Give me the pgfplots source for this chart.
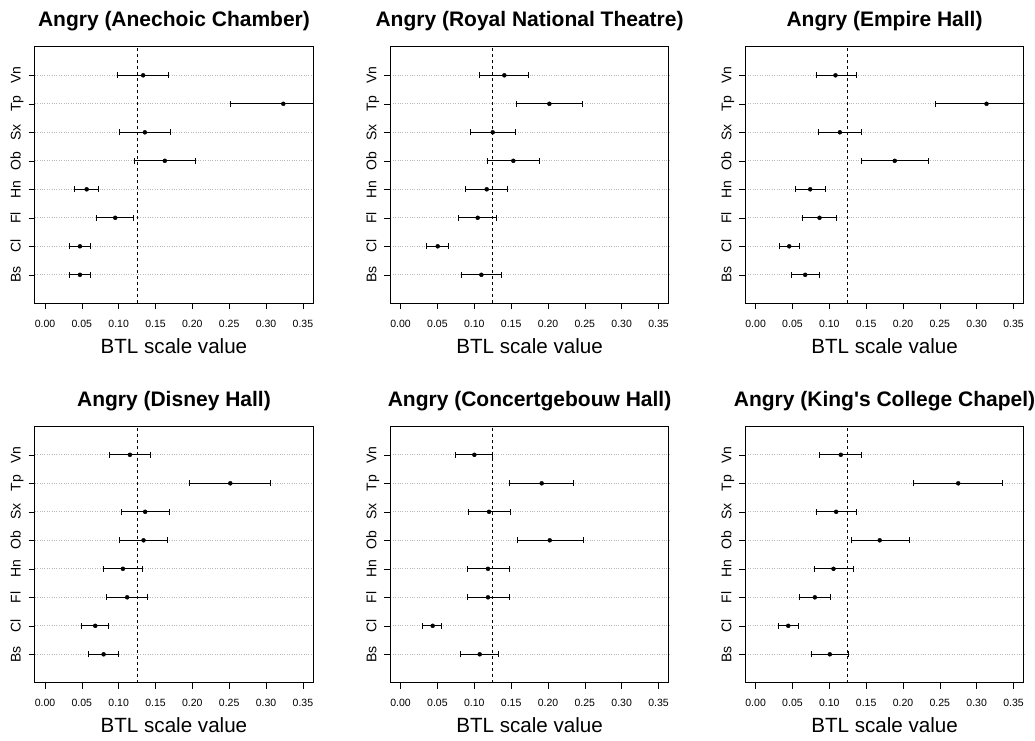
\documentclass[border=0pt]{standalone}
\usepackage{fontspec}
\setmainfont{Liberation Sans}
\usepackage{pgfplots}
\usepackage{pgfplotstable}
\pgfplotsset{compat=1.18}

% columns: y (1=Bs ... 8=Vn), x = BTL value, lo/hi = interval ends
\pgfplotstableread{
y x lo hi
1 0.0474 0.0330 0.0619
2 0.0474 0.0330 0.0619
3 0.0953 0.0700 0.1206
4 0.0565 0.0397 0.0732
5 0.1626 0.1210 0.2037
6 0.1355 0.1007 0.1703
7 0.3234 0.2515 0.3950
8 0.1332 0.0985 0.1675
}\tabA
\pgfplotstableread{
y x lo hi
1 0.1096 0.0829 0.1363
2 0.0503 0.0358 0.0647
3 0.1046 0.0792 0.1304
4 0.1168 0.0883 0.1453
5 0.1530 0.1177 0.1888
6 0.1250 0.0951 0.1553
7 0.2019 0.1567 0.2468
8 0.1408 0.1069 0.1739
}\tabB
\pgfplotstableread{
y x lo hi
1 0.0673 0.0488 0.0863
2 0.0456 0.0321 0.0592
3 0.0867 0.0637 0.1097
4 0.0741 0.0537 0.0948
5 0.1888 0.1436 0.2348
6 0.1143 0.0849 0.1441
7 0.3134 0.2439 0.3830
8 0.1084 0.0831 0.1368
}\tabC
\pgfplotstableread{
y x lo hi
1 0.0795 0.0592 0.1003
2 0.0682 0.0501 0.0863
3 0.1115 0.0840 0.1386
4 0.1057 0.0799 0.1323
5 0.1337 0.1016 0.1657
6 0.1359 0.1034 0.1689
7 0.2515 0.1964 0.3066
8 0.1152 0.0876 0.1436
}\tabD
\pgfplotstableread{
y x lo hi
1 0.1073 0.0806 0.1331
2 0.0435 0.0303 0.0557
3 0.1186 0.0901 0.1472
4 0.1186 0.0901 0.1472
5 0.2024 0.1589 0.2477
6 0.1200 0.0919 0.1494
7 0.1915 0.1481 0.2350
8 0.1001 0.0747 0.1250
}\tabE
\pgfplotstableread{
y x lo hi
1 0.1007 0.0754 0.1260
2 0.0443 0.0312 0.0578
3 0.0804 0.0600 0.1012
4 0.1057 0.0795 0.1323
5 0.1684 0.1296 0.2086
6 0.1093 0.0826 0.1364
7 0.2750 0.2145 0.3355
8 0.1156 0.0867 0.1441
}\tabF

\pgfplotsset{
  panel/.style={
    scale only axis, width=278.5pt, height=256.5pt,
    anchor=south west,
    xmin=-0.014, xmax=0.364, ymin=0, ymax=9,
    xtick={0,0.05,0.10,0.15,0.20,0.25,0.30,0.35},
    ytick={1,2,3,4,5,6,7,8},
    yticklabels={Bs,Cl,Fl,Hn,Ob,Sx,Tp,Vn},
    xtick pos=bottom, ytick pos=left, tick align=outside,
    major tick length=6pt,
    every tick/.style={black, line width=0.6pt},
    axis line style={line width=0.8pt},
    ymajorgrids,
    grid style={gray!55, dotted, line width=0.7pt},
    /pgf/number format/fixed,
    /pgf/number format/fixed zerofill,
    /pgf/number format/precision=2,
    /pgf/number format/assume math mode=true,
    x tick label style={font=\fontsize{10.5}{12}\selectfont, anchor=base, yshift=-18pt},
    y tick label style={font=\fontsize{14}{16}\selectfont, xshift=-8pt, rotate=90, anchor=base},
    title style={font=\bfseries\fontsize{21}{24}\selectfont, at={(0.5,1)}, anchor=base, yshift=14pt},
    xlabel={BTL scale value},
    xlabel style={font=\fontsize{20.6}{24}\selectfont, at={(axis description cs:0.5,0)}, anchor=base, yshift=-50pt},
  },
  btl/.style={
    black, only marks, mark=*, mark size=2pt,
    error bars/.cd, x dir=both, x explicit,
    error mark=|,
    error bar style={line width=1pt},
    error mark options={mark size=3pt, line width=1pt},
  },
  ref/.style={black, line width=0.8pt, dash pattern=on 3pt off 3pt},
}

\newcommand{\btlplot}[1]{%
  \addplot[ref] coordinates {(0.125,0) (0.125,9)};
  \addplot[btl] table[x=x, y=y,
    x error plus expr=\thisrow{hi}-\thisrow{x},
    x error minus expr=\thisrow{x}-\thisrow{lo}] {#1};
}

\begin{document}
\begin{tikzpicture}
\useasboundingbox (0,0) rectangle (1035pt,740pt);

\begin{axis}[panel, at={(34.7pt,436.7pt)}, title={Angry (Anechoic Chamber)}]
\btlplot{\tabA}
\end{axis}

\begin{axis}[panel, at={(390.3pt,436.7pt)}, title={Angry (Royal National Theatre)}]
\btlplot{\tabB}
\end{axis}

\begin{axis}[panel, at={(745.3pt,436.7pt)}, title={Angry (Empire Hall)}]
\btlplot{\tabC}
\end{axis}

\begin{axis}[panel, at={(34.7pt,57.2pt)}, title={Angry (Disney Hall)}]
\btlplot{\tabD}
\end{axis}

\begin{axis}[panel, at={(390.3pt,57.2pt)}, title={Angry (Concertgebouw Hall)}]
\btlplot{\tabE}
\end{axis}

\begin{axis}[panel, at={(745.3pt,57.2pt)}, title={Angry (King\textquotesingle s College Chapel)}]
\btlplot{\tabF}
\end{axis}

\end{tikzpicture}
\end{document}
